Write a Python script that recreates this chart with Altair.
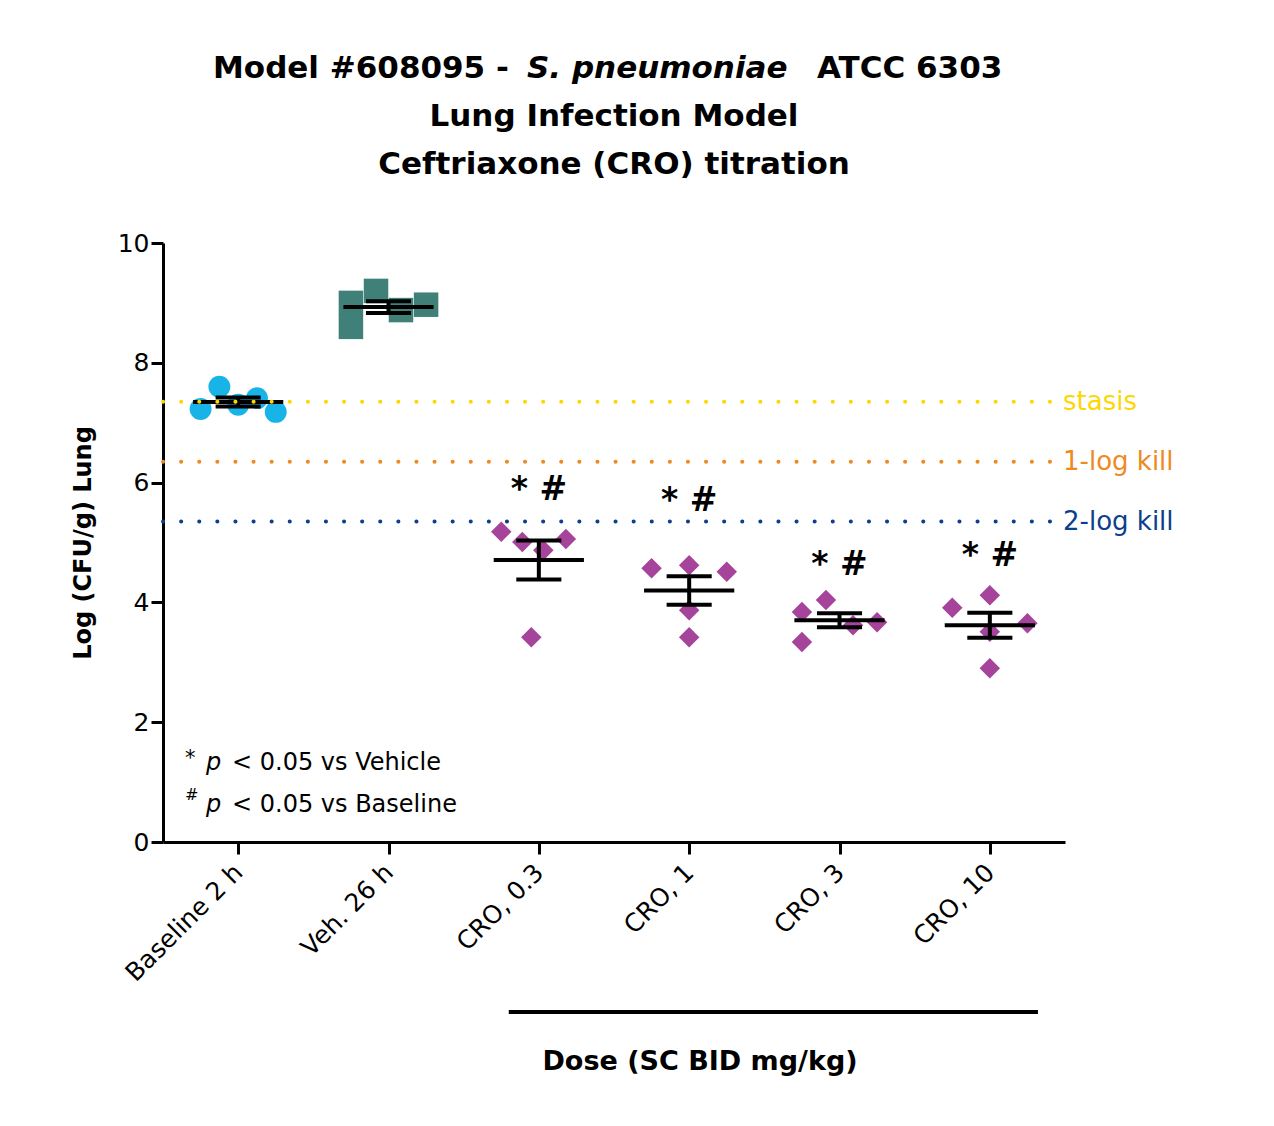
import altair as alt
import pandas as pd

groups = ["Baseline 2 h", "Veh. 26 h", "CRO, 0.3", "CRO, 1", "CRO, 3", "CRO, 10"]
offsets = [-0.25, -0.125, 0.0, 0.125, 0.25]
baseline = [7.23, 7.60, 7.30, 7.41, 7.18]
vehicle = [9.00, 9.20, 8.88, 8.97, 8.60]
veh_offsets = [-0.25, -0.083, 0.083, 0.25, -0.25]
cro_03 = [5.18, 5.01, 4.87, 5.06, 3.42]
cro_03_off = [-0.25, -0.11, 0.03, 0.18, -0.05]
cro_1 = [4.57, 4.62, 4.51, 3.87, 3.42]
cro_1_off = [-0.25, 0.0, 0.25, 0.0, 0.0]
cro_3 = [3.84, 4.04, 3.62, 3.67, 3.34]
cro_3_off = [-0.25, -0.09, 0.09, 0.25, -0.25]
cro_10 = [3.91, 4.12, 3.51, 3.65, 2.90]
cro_10_off = [-0.25, 0.0, 0.0, 0.25, 0.0]

rows = []
for g, (vals, offs) in enumerate([(baseline, offsets), (vehicle, veh_offsets), (cro_03, cro_03_off),
                                  (cro_1, cro_1_off), (cro_3, cro_3_off), (cro_10, cro_10_off)]):
    for v, o in zip(vals, offs):
        rows.append({"g": g, "x": g + o, "y": v, "kind": "b" if g == 0 else ("v" if g == 1 else "c")})
df = pd.DataFrame(rows)

ref_lines = pd.DataFrame({"y": [7.35, 6.35, 5.35], "label": ["stasis", "1-log kill", "2-log kill"],
                          "color": ["#FFD700", "#EE8A1E", "#0E3F8C"]})
stars = pd.DataFrame({"x": [2, 3, 4, 5], "y": [5.88, 5.70, 4.62, 4.77]})

FONT = "DejaVu Sans"
xs = alt.Scale(domain=[-0.5, 5.5], nice=False, zero=False)
ys = alt.Scale(domain=[0, 10], nice=False)
label_expr = "[" + ",".join(f"'{g}'" for g in groups) + "][datum.value]"

base = alt.Chart(df)
pts_b = base.transform_filter("datum.kind=='b'").mark_point(shape="circle", filled=True, size=480, color="#18B4E8", opacity=1).encode(
    x=alt.X("x:Q", scale=xs, axis=alt.Axis(values=list(range(6)), labelExpr=label_expr, labelAngle=-45, labelAlign="right",
                                            labelBaseline="middle", labelFontSize=25, labelFont=FONT, labelColor="black",
                                            tickSize=12, tickWidth=3, tickColor="black", domainWidth=3, domainColor="black",
                                            grid=False, title=None, labelPadding=14)),
    y=alt.Y("y:Q", scale=ys, axis=alt.Axis(values=[0, 2, 4, 6, 8, 10], format="d", labelFontSize=25, labelFont=FONT,
                                            labelColor="black", tickSize=12, tickWidth=3, tickColor="black",
                                            domainWidth=3, domainColor="black", grid=False, title="Log (CFU/g) Lung",
                                            titleFontSize=24, titleFont=FONT, titleFontWeight="bold",
                                            titleColor="black", titlePadding=22)))
pts_v = base.transform_filter("datum.kind=='v'").mark_point(shape="square", filled=True, size=600, color="#3F8178", opacity=1).encode(
    x=alt.X("x:Q", scale=xs), y=alt.Y("y:Q", scale=ys))
pts_c = base.transform_filter("datum.kind=='c'").mark_point(shape="diamond", filled=True, size=420, color="#A5449A", opacity=1).encode(
    x=alt.X("x:Q", scale=xs), y=alt.Y("y:Q", scale=ys))

stats = base.transform_aggregate(m="mean(y)", se="stderr(y)", groupby=["g"]).transform_calculate(
    lo="datum.m - datum.se", hi="datum.m + datum.se",
    ml="datum.g - 0.3", mr="datum.g + 0.3", cl="datum.g - 0.15", cr="datum.g + 0.15")
mean_line = stats.mark_rule(color="black", strokeWidth=4).encode(x=alt.X("ml:Q", scale=xs), x2="mr:Q", y=alt.Y("m:Q", scale=ys))
err_v = stats.mark_rule(color="black", strokeWidth=4).encode(x=alt.X("g:Q", scale=xs), y=alt.Y("lo:Q", scale=ys), y2="hi:Q")
cap_lo = stats.mark_rule(color="black", strokeWidth=4).encode(x=alt.X("cl:Q", scale=xs), x2="cr:Q", y=alt.Y("lo:Q", scale=ys))
cap_hi = stats.mark_rule(color="black", strokeWidth=4).encode(x=alt.X("cl:Q", scale=xs), x2="cr:Q", y=alt.Y("hi:Q", scale=ys))

refs = alt.Chart(ref_lines).mark_rule(strokeWidth=4, strokeDash=[0.1, 18], strokeCap="round").encode(
    x=alt.value(0), x2=alt.value(892), y=alt.Y("y:Q", scale=ys), color=alt.Color("color:N", scale=None))
ref_txt = alt.Chart(ref_lines).mark_text(align="left", fontSize=26, font=FONT, dx=0).encode(
    x=alt.value(900), y=alt.Y("y:Q", scale=ys), text="label:N", color=alt.Color("color:N", scale=None))

star_txt = alt.Chart(stars).mark_text(text="* #", fontSize=33, fontWeight="bold", font=FONT, color="black").encode(
    x=alt.X("x:Q", scale=xs), y=alt.Y("y:Q", scale=ys))

def txt(t, x, y, **kw):
    opts = dict(fontSize=24, font=FONT, color="black", align="left")
    opts.update(kw)
    return alt.Chart(pd.DataFrame({"t": [t]})).mark_text(**opts).encode(text="t:N", x=alt.value(x), y=alt.value(y))

notes = [
    txt("*", 22, 516, fontSize=21),
    txt("p", 43, 520, fontStyle="italic"),
    txt("< 0.05 vs Vehicle", 69, 520),
    txt("#", 22, 552, fontSize=16),
    txt("p", 43, 562, fontStyle="italic"),
    txt("< 0.05 vs Baseline", 69, 562),
]

title_lines = [
    txt("Model #608095 -", 50, -174, fontSize=31, fontWeight="bold"),
    txt("S. pneumoniae", 364, -174, fontSize=31, fontWeight="bold", fontStyle="italic"),
    txt("ATCC 6303", 654, -174, fontSize=31, fontWeight="bold"),
    txt("Lung Infection Model", 451, -126, fontSize=31, fontWeight="bold", align="center"),
    txt("Ceftriaxone (CRO) titration", 451, -78, fontSize=31, fontWeight="bold", align="center"),
]

dose_rule = alt.Chart(pd.DataFrame({"a": [1.8], "b": [5.32]})).mark_rule(color="black", strokeWidth=4).encode(
    x=alt.X("a:Q", scale=xs), x2="b:Q", y=alt.value(769))
dose_txt = txt("Dose (SC BID mg/kg)", 537, 819, fontSize=27, fontWeight="bold", align="center")

chart = alt.layer(pts_b, pts_v, pts_c, mean_line, err_v, cap_lo, cap_hi, refs, ref_txt, star_txt,
                  *notes, *title_lines, dose_rule, dose_txt).properties(
    width=902, height=599, autosize=alt.AutoSizeParams(type="none"),
    padding={"left": 155, "top": 235, "right": 200, "bottom": 270},
).configure(background="white", view=alt.ViewConfig(stroke=None))

chart.save("out.html", embed_options={"renderer": "svg", "actions": False})
